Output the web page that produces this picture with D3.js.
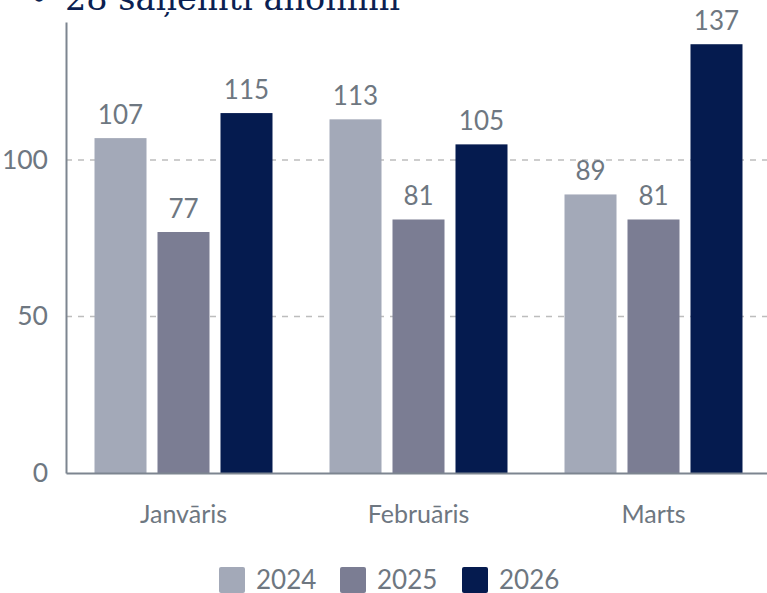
<!DOCTYPE html>
<html>
<head>
<meta charset="utf-8">
<script src="https://cdn.jsdelivr.net/npm/d3@7"></script>
<style>
  body { margin: 0; background: #fff; }
  svg { display: block; }
</style>
</head>
<body>
<div id="chart"></div>
<script>
// data
const months = ['Janvāris', 'Februāris', 'Marts'];
const years = ['2024', '2025', '2026'];
const values2024 = [107, 113, 89];
const values2025 = [77, 81, 81];
const values2026 = [115, 105, 137];
const yTicks = [0, 50, 100];
const colors = ['#a3a9b8', '#7b7d93', '#051b4f'];
const title = '28 saņemti anonīmi';

const W = 767, H = 593;
const margin = {top: 22, right: -4, bottom: 120, left: 66};
const width = W - margin.left - margin.right;
const height = H - margin.top - margin.bottom;

const rows = months.map((m, i) => ({
    month: m,
    values: [values2024[i], values2025[i], values2026[i]]
}));

const svg = d3.select('#chart').append('svg')
    .attr('width', W)
    .attr('height', H);

// clipped heading at top
svg.append('text')
    .attr('x', 29)
    .attr('y', 10)
    .attr('font-family', 'DejaVu Serif, serif')
    .attr('font-size', 34)
    .attr('fill', '#0b1f52')
    .text('•');
svg.append('text')
    .attr('x', 65)
    .attr('y', 10)
    .attr('font-family', 'DejaVu Serif, serif')
    .attr('font-size', 33.5)
    .attr('fill', '#0b1f52')
    .text(title);

const g = svg.append('g')
    .attr('transform', 'translate(' + margin.left + ',' + margin.top + ')');

const x0 = d3.scaleBand()
    .domain(months)
    .range([0, width])
    .paddingInner(0.2426)
    .paddingOuter(0.1213);

const x1 = d3.scaleBand()
    .domain(years)
    .range([0, x0.bandwidth()])
    .paddingInner(0.1746)
    .paddingOuter(0);

const y = d3.scaleLinear()
    .domain([0, 144.1])
    .range([height, 0]);

const color = d3.scaleOrdinal().domain(years).range(colors);

const font = 'Lato, sans-serif';
const textColor = '#6e7781';

// grid
g.append('g')
    .selectAll('line')
    .data(yTicks.filter(d => d > 0))
    .join('line')
    .attr('x1', 0)
    .attr('x2', width)
    .attr('y1', d => y(d))
    .attr('y2', d => y(d))
    .attr('stroke', '#bdbdbd')
    .attr('stroke-width', 1.5)
    .attr('stroke-dasharray', '6,6');

// bars
const groups = g.selectAll('.group')
    .data(rows)
    .join('g')
    .attr('class', 'group')
    .attr('transform', d => 'translate(' + x0(d.month) + ',0)');

groups.selectAll('rect')
    .data(d => d.values.map((v, i) => ({year: years[i], value: v})))
    .join('rect')
    .attr('x', d => x1(d.year))
    .attr('y', d => y(d.value))
    .attr('width', x1.bandwidth())
    .attr('height', d => height - y(d.value))
    .attr('fill', d => color(d.year));

groups.selectAll('.val')
    .data(d => d.values.map((v, i) => ({year: years[i], value: v})))
    .join('text')
    .attr('class', 'val')
    .attr('x', d => x1(d.year) + x1.bandwidth() / 2)
    .attr('y', d => y(d.value) - 14)
    .attr('text-anchor', 'middle')
    .attr('font-family', font)
    .attr('font-size', 26)
    .attr('fill', textColor)
    .text(d => d.value);

// axes
const yAxis = d3.axisLeft(y).tickValues(yTicks).tickSize(0).tickPadding(18);
const yAxisGroup = g.append('g').call(yAxis);
yAxisGroup.select('.domain').attr('stroke', '#7d8590').attr('stroke-width', 2);
yAxisGroup.selectAll('text')
    .attr('font-family', font)
    .attr('font-size', 26.5)
    .attr('fill', textColor);

const xAxis = d3.axisBottom(x0).tickSize(0).tickPadding(32);
const xAxisGroup = g.append('g')
    .attr('transform', 'translate(0,' + height + ')')
    .call(xAxis);
xAxisGroup.select('.domain').attr('stroke', '#7d8590').attr('stroke-width', 2);
xAxisGroup.selectAll('text')
    .attr('font-family', font)
    .attr('font-size', 25)
    .attr('fill', textColor);

// legend
const legendX = [219, 340, 462];
const legend = svg.append('g')
    .selectAll('g')
    .data(years)
    .join('g')
    .attr('transform', (d, i) => 'translate(' + legendX[i] + ',567)');

legend.append('rect')
    .attr('width', 26)
    .attr('height', 26)
    .attr('rx', 2)
    .attr('fill', d => color(d));

legend.append('text')
    .attr('x', 37)
    .attr('y', 13)
    .attr('dy', '0.35em')
    .attr('font-family', font)
    .attr('font-size', 26)
    .attr('fill', textColor)
    .text(d => d);
</script>
</body>
</html>
